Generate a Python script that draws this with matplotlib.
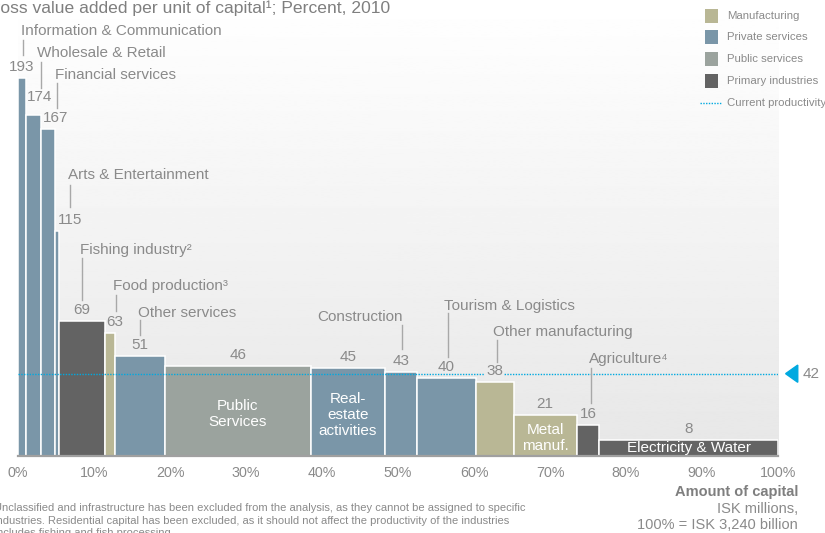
import numpy as np
import matplotlib
matplotlib.use("Agg")
import matplotlib.pyplot as plt
from matplotlib.patches import Rectangle, Polygon
from matplotlib.lines import Line2D

# ---------------------------------------------------------------- data
industries = [
    "Information & Communication", "Wholesale & Retail", "Financial services",
    "Arts & Entertainment", "Fishing industry²", "Food production³",
    "Other services", "Public Services", "Real-estate activities",
    "Construction", "Tourism & Logistics", "Other manufacturing",
    "Metal manuf.", "Agriculture⁴", "Electricity & Water",
]
productivity = [193, 174, 167, 115, 69, 63, 51, 46, 45, 43, 40, 38, 21, 16, 8]
capital_share = [1.0, 2.0, 1.9, 0.5, 6.0, 1.3, 6.6, 19.2, 9.8, 4.2, 7.7, 5.0,
                 8.3, 3.0, 23.5]
sector = [
    "Private services", "Private services", "Private services",
    "Private services", "Primary industries", "Manufacturing",
    "Private services", "Public services", "Private services",
    "Private services", "Private services", "Manufacturing",
    "Manufacturing", "Primary industries", "Primary industries",
]
sectors = ["Manufacturing", "Private services", "Public services",
           "Primary industries"]
current_productivity = 42
x_ticks = [0, 10, 20, 30, 40, 50, 60, 70, 80, 90, 100]
x_tick_labels = [f"{t}%" for t in x_ticks]

# ---------------------------------------------------------------- style
W, H = 825, 533
sector_colors = {
    "Manufacturing": "#b9b795",
    "Private services": "#7a96a8",
    "Public services": "#9ba39e",
    "Primary industries": "#636363",
}
CYAN = "#00a9e0"
TXT = "#8a8a8a"
LEAD = "#a8a8a8"
FONT = ["Liberation Sans", "DejaVu Sans"]
plt.rcParams["font.family"] = FONT

fig = plt.figure(figsize=(W / 100, H / 100), dpi=100)
fig.patch.set_facecolor("white")

# axes box in pixels: left 18, right 778, baseline at y=456, top at y=0
AX_L, AX_R, AX_B, AX_T = 18, 778, 456, 0
ax = fig.add_axes([AX_L / W, (H - AX_B) / H, (AX_R - AX_L) / W,
                   (AX_B - AX_T) / H])
PX_PER_UNIT = 1.96
ymax = (AX_B - AX_T) / PX_PER_UNIT
ax.set_xlim(0, 100)
ax.set_ylim(0, ymax)
for s in ax.spines.values():
    s.set_visible(False)
ax.set_yticks([])
ax.set_xticks(x_ticks)
ax.set_xticklabels(x_tick_labels, fontsize=10.3, color=TXT)
ax.tick_params(axis="x", length=0, pad=7)


def px2data(xp, yp):
    """Pixel position on the canvas -> data coordinates."""
    return (xp - AX_L) / (AX_R - AX_L) * 100, (AX_B - yp) / PX_PER_UNIT


# soft vertical gradient behind the bars
grad = np.linspace(0.905, 1.0, 256).reshape(-1, 1)
ax.imshow(grad, extent=[0, 100, 0, ymax], origin="lower", aspect="auto",
          cmap="gray", vmin=0, vmax=1, zorder=0)

# variable-width bars (Marimekko style)
lefts = np.concatenate([[0], np.cumsum(capital_share)[:-1]])
centers = lefts + np.array(capital_share) / 2
ax.bar(lefts, productivity, width=capital_share, align="edge",
       color=[sector_colors[s] for s in sector], edgecolor="white",
       linewidth=1.1, zorder=2)

# baseline
ax.axhline(0, color="#a0a0a0", lw=1.6, zorder=3, clip_on=False)

# current productivity line
ax.axhline(current_productivity, color=CYAN, lw=1.0, ls=(0, (1, 1)),
           zorder=4)
ax.add_patch(Polygon([[101.0, current_productivity],
                      [102.6, current_productivity + 4.4],
                      [102.6, current_productivity - 4.4]],
                     closed=True, color=CYAN, clip_on=False, zorder=5))
ax.text(103.2, current_productivity, str(current_productivity),
        fontsize=11, color=TXT, va="center", ha="left", clip_on=False)

# value labels above the bars (x nudges in % of capital where crowded)
value_dx = {1: 0.9, 2: 1.0, 3: 1.7, 5: 0.7}
value_dy = {1: 7}
for i, (c, v) in enumerate(zip(centers, productivity)):
    xv = c + value_dx.get(i, 0)
    dy_px = 11 + value_dy.get(i, 0)
    bg = dict(facecolor="#ececec", edgecolor="none", pad=1) if i == 11 else None
    ax.text(xv, v + dy_px / PX_PER_UNIT, str(v), fontsize=11, color=TXT,
            ha="center", va="center", zorder=6, bbox=bg)

# industry names with leader lines: (index, text x px, text y px, ha,
#                                    leader x px, leader top px, bottom px)
callouts = [
    (0, 21, 31, "left", 22.5, 40, 55),
    (1, 37, 53, "left", 40.7, 62, 88),
    (2, 55, 75, "left", 56.7, 83, 108),
    (3, 68, 175, "left", 69.7, 185, 207),
    (4, 80, 250, "left", 82, 258, 300),
    (5, 113, 286, "left", 116, 295, 311),
    (6, 138, 313, "left", 140, 320, 335),
    (9, 403, 317, "right", 402, 325, 349),
    (10, 444, 306, "left", 448, 313, 357),
    (11, 493, 332, "left", 497, 340, 362),
    (13, 589, 359, "left", 591, 368, 403),
]
for idx, tx, ty, ha, lx, l0, l1 in callouts:
    xd, yd = px2data(tx, ty)
    ax.text(xd, yd, industries[idx], fontsize=11, color=TXT, ha=ha,
            va="center", zorder=6)
    lxd, y0 = px2data(lx, l0)
    _, y1 = px2data(lx, l1)
    ax.plot([lxd, lxd], [y0, y1], color=LEAD, lw=1.0, zorder=6)

# names written inside the bars
inside = {
    7: ("Public\nServices", 414),
    8: ("Real-\nestate\nactivities", 415),
    12: ("Metal\nmanuf.", 438),
    14: ("Electricity & Water", 448),
}
for idx, (label, yp) in inside.items():
    _, yd = px2data(0, yp)
    ax.text(centers[idx], yd, label, fontsize=11, color="white",
            ha="center", va="center", linespacing=1.2, zorder=6)

# ---------------------------------------------------------------- title
fig.text(-19.4 / W, 1 - 8 / H,
         "Gross value added per unit of capital¹; Percent, 2010",
         fontsize=12.6, color="#7f7f7f", ha="left", va="center")

# ---------------------------------------------------------------- legend
leg_y = [16, 37, 59, 81]
for s, yp in zip(sectors, leg_y):
    fig.patches.append(Rectangle((705 / W, 1 - (yp + 7) / H), 13 / W,
                                 14 / H, transform=fig.transFigure,
                                 facecolor=sector_colors[s],
                                 edgecolor="none"))
    fig.text(727 / W, 1 - yp / H, s, fontsize=8.2, color=TXT, ha="left",
             va="center")
fig.lines.append(Line2D([700 / W, 722 / W], [1 - 103 / H, 1 - 103 / H],
                        transform=fig.transFigure, color=CYAN, lw=1.0,
                        ls=(0, (1, 1))))
fig.text(727 / W, 1 - 103 / H, "Current productivity", fontsize=8.2,
         color=TXT, ha="left", va="center")

# ---------------------------------------------------------------- axis title
fig.text(798 / W, 1 - 492 / H, "Amount of capital", fontsize=10.5,
         color="#7f7f7f", fontweight="bold", ha="right", va="center")
fig.text(798 / W, 1 - 509 / H, "ISK millions,", fontsize=10.5,
         color=TXT, ha="right", va="center")
fig.text(798 / W, 1 - 525 / H, "100% = ISK 3,240 billion", fontsize=10.5,
         color=TXT, ha="right", va="center")

# ---------------------------------------------------------------- footnotes
footnotes = [
    "Unclassified and infrastructure has been excluded from the analysis, "
    "as they cannot be assigned to specific",
    "industries. Residential capital has been excluded, as it should not "
    "affect the productivity of the industries",
    "Includes fishing and fish processing",
]
for line, yp in zip(footnotes, [508, 520.5, 533]):
    fig.text(-6.5 / W, 1 - yp / H, line, fontsize=8.0, color=TXT,
             ha="left", va="center")

fig.savefig("out.png", dpi=100)
